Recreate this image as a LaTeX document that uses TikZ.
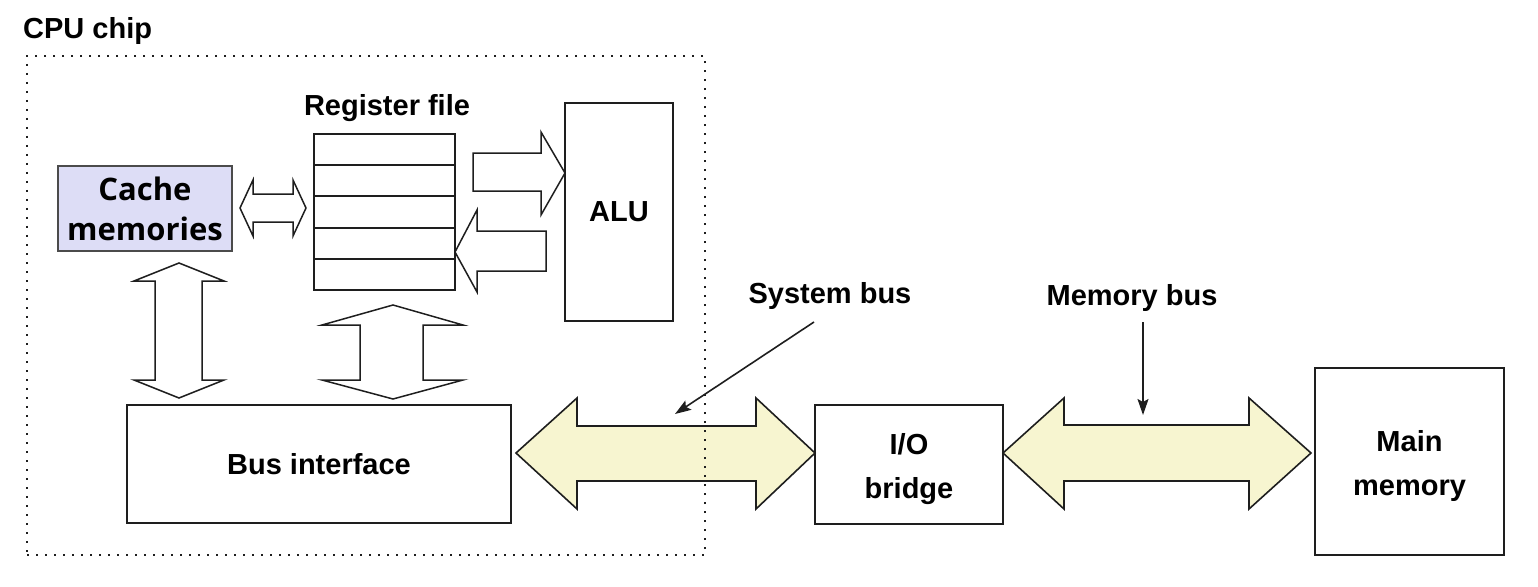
\documentclass[tikz,border=0pt]{standalone}
\usepackage{fontspec}
\setmainfont{Liberation Sans}
\newfontfamily\cachefont{Open Sans}
\usetikzlibrary{arrows.meta}
\definecolor{busyellow}{RGB}{247,245,208}
\definecolor{cachelav}{RGB}{221,221,246}
\definecolor{edge}{RGB}{30,30,30}
\newcommand{\lowerstrut}{\rule{0pt}{30pt}}
\tikzset{
  lbl/.style={font=\bfseries\fontsize{29}{44}\selectfont, inner sep=0pt},
  box/.style={draw=edge, line width=1.8pt, fill=white, inner sep=0pt, align=center,
              font=\bfseries\fontsize{29}{44}\selectfont},
  blockarrow/.style={draw=edge, line width=1.5pt, fill=white, line join=miter},
  busarrow/.style={draw=edge, line width=1.6pt, fill=busyellow, line join=miter},
  ptr/.style={draw=edge, line width=1.6pt, -{Stealth[length=16pt,width=11pt,inset=3pt]}},
  chipbox/.style={draw=edge, line width=2pt, dash pattern=on 1.6pt off 7.4pt, inner sep=0pt}
}
\begin{document}
\begin{tikzpicture}[x=1pt,y=-1pt]
\useasboundingbox (0,0) rectangle (1538,586);

% labels
\node[lbl, anchor=base west] (cpulbl) at (23,38) {CPU chip};
\node[lbl, anchor=base] (rflbl) at (387,115) {Register file};
\node[lbl, anchor=base] (sblbl) at (830,303) {System bus};
\node[lbl, anchor=base] (mblbl) at (1132,305) {Memory bus};

% register file
\node[draw=edge, line width=1.8pt, minimum width=141pt, minimum height=156pt, inner sep=0pt] (rf) at (384.5,212) {};
\foreach \yy in {165,196,228,259} \draw[edge, line width=1.8pt] (rf.west |- 0,\yy) -- (rf.east |- 0,\yy);

% cache
\node[box, fill=cachelav, minimum width=174pt, minimum height=85pt,
      font=\cachefont\bfseries\fontsize{31}{40}\selectfont, draw=edge!80, line width=1.5pt] (cache) at (145,208.5) {Cache\\memories};

% ALU
\node[box, minimum width=108pt, minimum height=218pt] (alu) at (619,212) {ALU};

% bus interface
\node[box, minimum width=384pt, minimum height=118pt] (bif) at (319,464) {Bus interface};

% I/O bridge
\node[box, minimum width=188pt, minimum height=119pt] (io) at (909,464.5) {\lowerstrut I/O\\bridge};

% main memory
\node[box, minimum width=189pt, minimum height=187pt] (mem) at (1409.5,461.5) {\lowerstrut Main\\memory};

% cache <-> register file
\draw[blockarrow] (240,208) -- (253,180) -- (253,194) -- (293,194) -- (293,180) -- (306,208)
  -- (293,236) -- (293,222) -- (253,222) -- (253,236) -- cycle;
% register file -> ALU
\draw[blockarrow] (473,153) -- (541,153) -- (541,132) -- (565,173) -- (541,215) -- (541,191) -- (473,191) -- cycle;
% ALU -> register file
\draw[blockarrow] (546,231) -- (477,231) -- (477,210) -- (455,252) -- (477,292) -- (477,271) -- (546,271) -- cycle;
% cache <-> bus interface
\draw[blockarrow] (179,263) -- (224,281) -- (202,281) -- (202,380) -- (224,380) -- (179,398)
  -- (134,380) -- (155,380) -- (155,281) -- (134,281) -- cycle;
% register file <-> bus interface
\draw[blockarrow] (393,305) -- (463,325) -- (423,325) -- (423,380) -- (463,380) -- (393,399)
  -- (322,380) -- (360,380) -- (360,325) -- (322,325) -- cycle;

% system bus
\draw[busarrow] (516,453) -- (577,398) -- (577,426) -- (756,426) -- (756,398) -- (815,453)
  -- (756,509) -- (756,481) -- (577,481) -- (577,509) -- cycle;
% memory bus
\draw[busarrow] (1003,453) -- (1064,398) -- (1064,425) -- (1249,425) -- (1249,398) -- (1311,453)
  -- (1249,509) -- (1249,481) -- (1064,481) -- (1064,509) -- cycle;

% CPU chip boundary
\node[chipbox, minimum width=678pt, minimum height=499pt] (chip) at (366,305.5) {};

% pointers
\coordinate (sbstart) at (814,322);
\coordinate (sbtip) at (675,414);
\draw[ptr] (sbstart) -- (sbtip);
\coordinate (mbstart) at (1143,322);
\coordinate (mbtip) at (1143,415);
\draw[ptr] (mbstart) -- (mbtip);
\end{tikzpicture}
\end{document}
